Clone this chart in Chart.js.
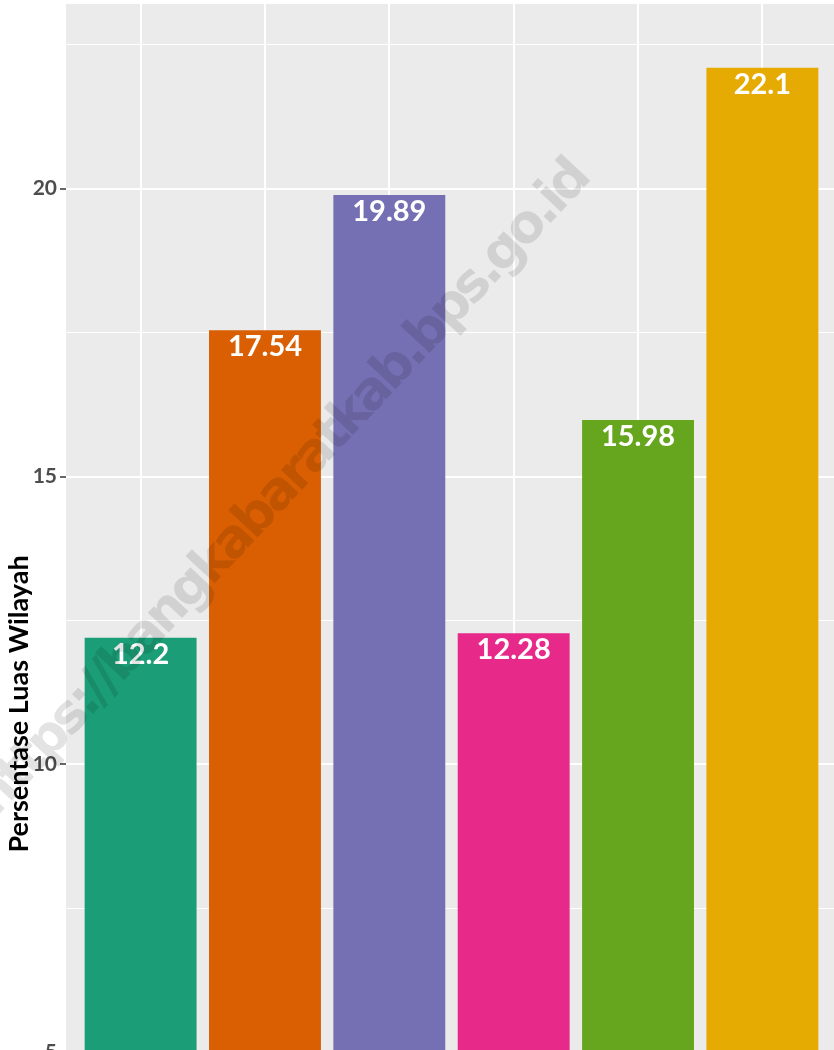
<!DOCTYPE html>
<html>
<head>
<meta charset="utf-8">
<script src="https://cdn.jsdelivr.net/npm/chart.js@4/dist/chart.umd.min.js"></script>
<style>
    html, body { margin: 0; padding: 0; background: #ffffff; overflow: hidden; }
    #wrap { width: 834px; height: 1050px; overflow: hidden; }
    canvas { display: block; }
</style>
</head>
<body>
<div id="wrap"><canvas id="chart" width="840" height="1460"></canvas></div>
<script>
// 数据
const categories = ['Mentok', 'Simpang Teritip', 'Kelapa', 'Tempilang', 'Jebus', 'Parittiga'];
const values = [12.2, 17.54, 19.89, 12.28, 15.98, 22.1];
const barColors = ['#1B9E77', '#D95F02', '#7570B3', '#E7298A', '#66A61E', '#E6AB02'];
const yMajorTicks = [0, 5, 10, 15, 20];
const yMinorTicks = [2.5, 7.5, 12.5, 17.5, 22.5];
const yTitle = 'Persentase Luas Wilayah';
const watermark = 'https://bangkabaratkab.bps.go.id';

const FONT = 'Lato, "DejaVu Sans", sans-serif';

// 灰色面板背景
const panelBg = {
    id: 'panelBg',
    beforeDraw: function(chart) {
        const a = chart.chartArea;
        const ctx = chart.ctx;
        ctx.save();
        ctx.fillStyle = '#EBEBEB';
        ctx.fillRect(a.left, a.top, a.right - a.left, a.bottom - a.top);
        ctx.restore();
    }
};

// 柱顶数值标签
const valueLabels = {
    id: 'valueLabels',
    afterDatasetsDraw: function(chart) {
        const ctx = chart.ctx;
        const meta = chart.getDatasetMeta(0);
        ctx.save();
        ctx.fillStyle = '#ffffff';
        ctx.font = 'bold 29px ' + FONT;
        ctx.textAlign = 'center';
        ctx.textBaseline = 'alphabetic';
        meta.data.forEach((bar, i) => {
            ctx.fillText(String(values[i]), bar.x, bar.y + 26);
        });
        ctx.restore();
    }
};

// 水印
const watermarkText = {
    id: 'watermarkText',
    afterDraw: function(chart) {
        const ctx = chart.ctx;
        ctx.save();
        ctx.translate(283, 490);
        ctx.rotate(-47 * Math.PI / 180);
        ctx.letterSpacing = '-4px';
        ctx.font = 'bold 50px "DejaVu Sans", sans-serif';
        const w = ctx.measureText(watermark).width;
        const size = 50 * 865 / w;
        ctx.font = 'bold ' + size.toFixed(1) + 'px "DejaVu Sans", sans-serif';
        ctx.fillStyle = 'rgba(0, 0, 0, 0.11)';
        ctx.textAlign = 'center';
        ctx.textBaseline = 'middle';
        ctx.fillText(watermark, 0, 0);
        ctx.restore();
    }
};

const isMajor = v => yMajorTicks.indexOf(v) !== -1;

new Chart(document.getElementById('chart'), {
    type: 'bar',
    data: {
        datasets: [{
            data: values.map((v, i) => ({ x: i, y: v })),
            backgroundColor: barColors,
            borderWidth: 0,
            barPercentage: 0.9,
            categoryPercentage: 1
        }]
    },
    options: {
        responsive: false,
        animation: false,
        devicePixelRatio: 1,
        layout: { padding: { top: 4, right: 3, left: 0, bottom: 0 } },
        plugins: {
            legend: { display: false },
            tooltip: { enabled: false }
        },
        scales: {
            x: {
                type: 'linear',
                offset: false,
                min: -0.6,
                max: 5.6,
                afterBuildTicks: function(scale) {
                    scale.ticks = categories.map((c, i) => ({ value: i }));
                },
                afterFit: function(scale) {
                    scale.height = 56;
                    scale.paddingLeft = 0;
                    scale.paddingRight = 0;
                },
                ticks: {
                    callback: function(v) { return categories[v]; },
                    color: '#4D4D4D',
                    autoSkip: false,
                    maxRotation: 0,
                    font: { family: FONT, size: 20, weight: 'bold' }
                },
                grid: { offset: false, color: '#ffffff', lineWidth: 2, tickLength: 6, tickColor: '#333333' },
                border: { display: false }
            },
            y: {
                min: -1.105,
                max: 23.205,
                afterBuildTicks: function(scale) {
                    scale.ticks = yMajorTicks.concat(yMinorTicks)
                        .sort((a, b) => a - b)
                        .map(v => ({ value: v }));
                },
                afterFit: function(scale) {
                    scale.width = 66;
                    scale.paddingTop = 0;
                    scale.paddingBottom = 0;
                },
                ticks: {
                    callback: function(v) { return isMajor(v) ? String(v) : ''; },
                    color: '#4D4D4D',
                    autoSkip: false,
                    padding: 3,
                    font: { family: FONT, size: 21, weight: 'bold' }
                },
                grid: {
                    color: '#ffffff',
                    lineWidth: ctx => (ctx.tick && isMajor(ctx.tick.value)) ? 2 : 1,
                    tickLength: 6,
                    tickColor: ctx => (ctx.tick && isMajor(ctx.tick.value)) ? '#333333' : 'rgba(0,0,0,0)',
                    tickWidth: 1.5
                },
                border: { display: false },
                title: {
                    display: true,
                    text: yTitle,
                    color: '#000000',
                    padding: { top: 3, bottom: 0 },
                    font: { family: FONT, size: 27, weight: 'bold' }
                }
            }
        }
    },
    plugins: [panelBg, valueLabels, watermarkText]
});
</script>
</body>
</html>
